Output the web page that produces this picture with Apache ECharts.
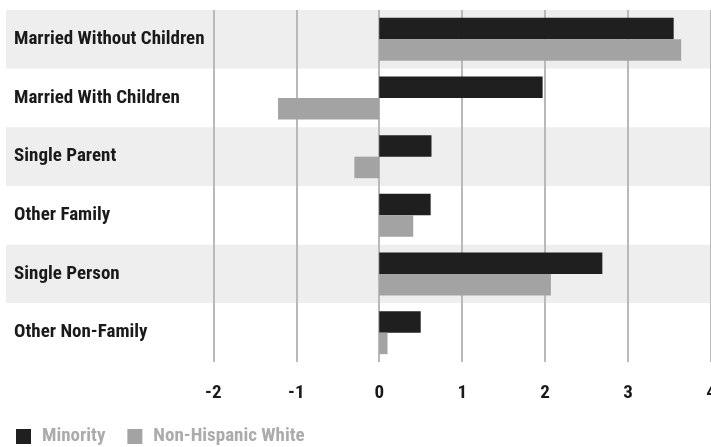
<!DOCTYPE html>
<html>
<head>
<meta charset="utf-8">
<script src="https://cdn.jsdelivr.net/npm/echarts@6/dist/echarts.min.js"></script>
<style>html,body{margin:0;padding:0;background:#fff;}#c{width:711px;height:447px;}</style>
</head>
<body>
<div id="c"></div>
<script>
const categories = ['Married Without Children','Married With Children','Single Parent','Other Family','Single Person','Other Non-Family'];
const minority = [3.55, 1.97, 0.63, 0.62, 2.69, 0.50];
const nonHispanicWhite = [3.64, -1.22, -0.30, 0.41, 2.07, 0.10];
const gridTicks = [-2, -1, 0, 1, 2, 3, 4];
const seriesNames = ['Minority', 'Non-Hispanic White'];

const FONT = '"Roboto Condensed", "Liberation Sans Narrow", sans-serif';
const chart = echarts.init(document.getElementById('c'), null, {renderer: 'canvas'});
chart.setOption({
  animation: false,
  backgroundColor: '#ffffff',
  grid: {left: 6, right: 0, top: 10, bottom: 85, containLabel: false, outerBoundsMode: 'none'},
  legend: {
    left: 16, top: 427, padding: 0, itemWidth: 15, itemHeight: 15, itemGap: 22,
    icon: 'rect',
    data: seriesNames,
    textStyle: {color: '#ababab', fontFamily: FONT, fontWeight: 'bold', fontSize: 19, padding: [0,0,0,6]}
  },
  xAxis: {
    type: 'value', min: -4.5, max: 4, interval: 0.5,
    axisLine: {show: false}, axisTick: {show: false}, splitLine: {show: false},
    axisLabel: {
      margin: 22, color: '#1a1a1a', fontFamily: FONT, fontWeight: 'bold', fontSize: 19,
      formatter: function (v) { return (Number.isInteger(v) && v >= -2) ? String(v) : ''; }
    }
  },
  yAxis: {
    type: 'category', inverse: true, data: categories,
    axisLine: {show: false}, axisTick: {show: false},
    splitArea: {show: true, areaStyle: {color: ['#eeeeee', '#ffffff']}},
    axisLabel: {inside: true, margin: 8, color: '#1a1a1a', fontFamily: FONT, fontWeight: 'bold', fontSize: 19},
    z: 0
  },
  series: [
    {
      name: seriesNames[0], type: 'bar', data: minority, barWidth: 21.5, barGap: '0%',
      itemStyle: {color: '#1f1f1f'}, z: 3,
      markLine: {
        silent: true, symbol: 'none', z: 1, animation: false,
        label: {show: false},
        lineStyle: {color: '#b9b9b9', width: 2, type: 'solid'},
        data: gridTicks.map(function (t) { return {xAxis: t}; })
      }
    },
    {
      name: seriesNames[1], type: 'bar', data: nonHispanicWhite, barWidth: 21.5, barGap: '0%',
      itemStyle: {color: '#a3a3a3'}, z: 3
    }
  ]
});
</script>
</body>
</html>
